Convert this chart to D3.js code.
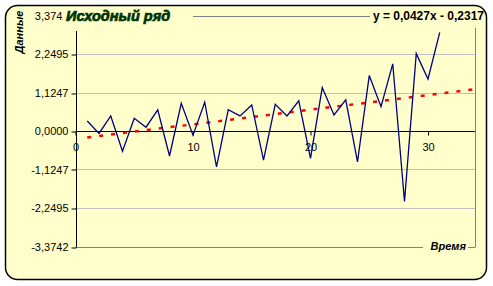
<!DOCTYPE html>
<html>
<head>
<meta charset="utf-8">
<script src="https://cdn.jsdelivr.net/npm/d3@7"></script>
<style>
  body { margin: 0; background: #fff; }
  svg { display: block; font-family: "Liberation Sans", Arial, sans-serif; }
</style>
</head>
<body>
<svg width="493" height="286"></svg>
<script>
// data
var timeValues = [1, 2, 3, 4, 5, 6, 7, 8, 9, 10, 11, 12, 13, 14, 15, 16, 17, 18, 19, 20,
                  21, 22, 23, 24, 25, 26, 27, 28, 29, 30, 31];
var seriesValues = [0.29, -0.07, 0.44, -0.59, 0.37, 0.11, 0.62, -0.73, 0.81, -0.12,
                    0.84, -1.05, 0.62, 0.44, 0.76, -0.85, 0.78, 0.44, 0.88, -0.80,
                    1.27, 0.47, 0.91, -0.90, 1.62, 0.71, 1.96, -2.06, 2.26, 1.52, 2.88];
var trendCoef = [0.0427, -0.2317];   // slope, intercept from the label
var trendRange = [1, 34];            // trend drawn with 3 periods forecast
var yTicks = [3.3742, 2.2495, 1.1247, 0, -1.1247, -2.2495, -3.3742];
var yTickLabels = ["3,3742", "2,2495", "1,1247", "0,0000", "-1,1247", "-2,2495", "-3,3742"];
var xTicks = [0, 10, 20, 30];
var xTickLabels = ["0", "10", "20", "30"];

var svg = d3.select("svg");
var bg = "#ffffcc";

var x = d3.scaleLinear().domain([0, 34]).range([75.5, 475]);
var y = d3.scaleLinear().domain([-3.3742, 3.3742]).range([246.5, 15.5]);

// chart area
svg.append("rect")
    .attr("x", 5.5).attr("y", 5.5)
    .attr("width", 481).attr("height", 274)
    .attr("rx", 12).attr("ry", 12)
    .attr("fill", bg);

var g = svg.append("g");

// gridlines
g.selectAll(".grid")
    .data(yTicks.filter(function (d) { return d !== 0; }))
    .enter().append("line")
    .attr("x1", x(0)).attr("x2", x(34))
    .attr("y1", function (d) { return Math.round(y(d)) + 0.5; })
    .attr("y2", function (d) { return Math.round(y(d)) + 0.5; })
    .attr("stroke", function (d) { return Math.abs(d) === 3.3742 ? "#808080" : "#c0c0c0"; })
    .attr("stroke-width", 1);

// plot border right
g.append("line")
    .attr("x1", 475.5).attr("x2", 475.5)
    .attr("y1", Math.round(y(3.3742)) + 0.5).attr("y2", Math.round(y(-3.3742)) + 0.5)
    .attr("stroke", "#808080");

// y axis
var yAxis = g.append("g")
    .attr("transform", "translate(76.5,0)")
    .call(d3.axisLeft(y).tickValues(yTicks)
        .tickFormat(function (d, i) { return yTickLabels[i]; })
        .tickSize(5).tickPadding(3))
    .call(function (a) { a.select(".domain").remove(); });
yAxis.selectAll("line").attr("stroke", "#000").attr("transform", function (d) {
    return "translate(0," + (Math.round(y(d)) + 0.5 - y(d)) + ")";
});
yAxis.selectAll("text").attr("font-size", "11px").attr("fill", "#000")
    .attr("font-family", "Liberation Sans, Arial, sans-serif");
g.append("line")
    .attr("x1", 76.5).attr("x2", 76.5)
    .attr("y1", y(3.3742)).attr("y2", y(-3.3742) + 1)
    .attr("stroke", "#000");

// x axis on zero
var xAxis = g.append("g")
    .attr("transform", "translate(0," + (Math.round(y(0)) + 0.5) + ")")
    .call(d3.axisBottom(x).tickValues(xTicks)
        .tickFormat(function (d, i) { return xTickLabels[i]; })
        .tickSize(4).tickPadding(8))
    .call(function (a) { a.select(".domain").remove(); });
xAxis.selectAll("line").attr("stroke", "#000");
xAxis.selectAll("text").attr("font-size", "11px").attr("fill", "#000")
    .attr("font-family", "Liberation Sans, Arial, sans-serif");
g.append("line")
    .attr("x1", x(0)).attr("x2", x(34))
    .attr("y1", Math.round(y(0)) + 0.5).attr("y2", Math.round(y(0)) + 0.5)
    .attr("stroke", "#000");

// trend line
var trendPts = trendRange.map(function (t) { return [t, trendCoef[0] * t + trendCoef[1]]; });
g.append("path")
    .attr("d", d3.line().x(function (d) { return x(d[0]); }).y(function (d) { return y(d[1]); })(trendPts))
    .attr("fill", "none")
    .attr("stroke", "#ff0000")
    .attr("stroke-width", 2.5)
    .attr("stroke-dasharray", "4,8");

// series
var pts = timeValues.map(function (t, i) { return [t, seriesValues[i]]; });
g.append("path")
    .attr("d", d3.line().x(function (d) { return x(d[0]); }).y(function (d) { return y(d[1]); })(pts))
    .attr("fill", "none")
    .attr("stroke", "#000080")
    .attr("stroke-width", 1.3)
    .attr("stroke-linejoin", "miter");

// label boxes cover the plot edges like the original
svg.append("rect").attr("x", 63).attr("y", 6).attr("width", 130).attr("height", 25).attr("fill", bg);
svg.append("rect").attr("x", 370).attr("y", 6).attr("width", 114).attr("height", 22).attr("fill", bg);
svg.append("rect").attr("x", 423).attr("y", 238).attr("width", 45).attr("height", 17).attr("fill", bg);

svg.append("text")
    .attr("x", 66).attr("y", 21)
    .attr("font-size", "14.5px").attr("font-weight", "bold").attr("font-style", "italic")
    .attr("fill", "#003300").attr("stroke", "#003300").attr("stroke-width", 0.7)
    .text("Исходный ряд");

svg.append("text")
    .attr("x", 484).attr("y", 20)
    .attr("text-anchor", "end")
    .attr("font-size", "12px").attr("font-weight", "bold")
    .text("y = 0,0427x - 0,2317");

svg.append("text")
    .attr("x", 466).attr("y", 250)
    .attr("text-anchor", "end")
    .attr("font-size", "11px").attr("font-weight", "bold").attr("font-style", "italic")
    .text("Время");

svg.append("text")
    .attr("transform", "translate(23,32) rotate(-90)")
    .attr("text-anchor", "middle")
    .attr("font-size", "11px").attr("font-weight", "bold").attr("font-style", "italic")
    .text("Данные");

// chart border on top
svg.append("rect")
    .attr("x", 5.5).attr("y", 5.5)
    .attr("width", 481).attr("height", 274)
    .attr("rx", 12).attr("ry", 12)
    .attr("fill", "none")
    .attr("stroke", "#000").attr("stroke-width", 1.5);
</script>
</body>
</html>
